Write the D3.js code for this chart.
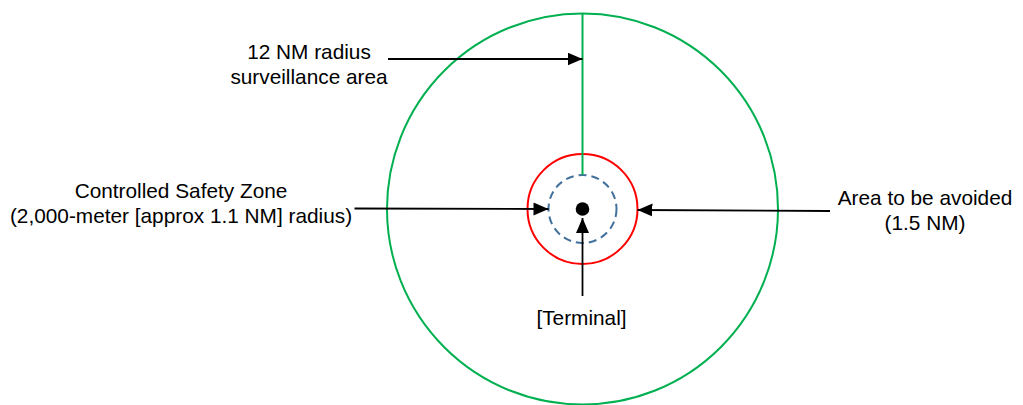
<!DOCTYPE html>
<html>
<head>
<meta charset="utf-8">
<script src="https://cdn.jsdelivr.net/npm/d3@7"></script>
<style>
  html, body { margin: 0; padding: 0; background: #fff; }
  text { font-family: "Liberation Sans", Arial, sans-serif; font-size: 20.8px; fill: #000; }
</style>
</head>
<body>
<div id="container"></div>
<script>
// rings around the terminal
const rings = ['Controlled Safety Zone', 'Area to be avoided', '12 NM radius'];
const ringRadiusNM = [1.1, 1.5, 12];
const ringColors = ['#41719c', '#ff0000', '#00b050'];
const ringDash = ['8,5', null, null];

// callout labels
const labelLines = [
    ['12 NM radius', 'surveillance area'],
    ['Controlled Safety Zone', '(2,000-meter [approx 1.1 NM] radius)'],
    ['Area to be avoided', '(1.5 NM)'],
    ['[Terminal]']
];

const width = 1023;
const height = 405;
const cx = 582.5;
const cy = 209;

// the drawing is not to scale, so map each ring to its drawn radius
const r = d3.scaleOrdinal().domain(ringRadiusNM).range([34, 55, 195.5]);

const svg = d3.select('#container').append('svg')
    .attr('width', width)
    .attr('height', height)
    .style('display', 'block');

svg.append('defs').append('marker')
    .attr('id', 'head')
    .attr('markerUnits', 'userSpaceOnUse')
    .attr('markerWidth', 16)
    .attr('markerHeight', 14)
    .attr('refX', 15)
    .attr('refY', 6.5)
    .attr('orient', 'auto')
    .append('path')
    .attr('d', 'M0,0 L15,6.5 L0,13 Z')
    .attr('fill', '#000');

const g = svg.append('g').attr('transform', `translate(${cx} ${cy})`);

g.selectAll('circle.ring')
    .data(rings)
    .join('circle')
    .attr('class', 'ring')
    .attr('r', (d, i) => r(ringRadiusNM[i]))
    .attr('fill', 'none')
    .attr('stroke', (d, i) => ringColors[i])
    .attr('stroke-width', 2)
    .attr('stroke-dasharray', (d, i) => ringDash[i]);

// radius line of the surveillance circle
g.append('line')
    .attr('x1', 0).attr('y1', -r(12))
    .attr('x2', 0).attr('y2', -r(1.1))
    .attr('stroke', ringColors[2])
    .attr('stroke-width', 2);

// terminal
g.append('circle').attr('r', 6.8).attr('fill', '#000');

// arrows: [x1, y1, x2, y2] relative to the centre
const arrows = [
    [-194.5, -150, 0, -150],
    [-228, -0.5, -r(1.1), 0],
    [247.5, 2, r(1.5), 1],
    [0, 87, 0, 9]
];

g.selectAll('line.arrow')
    .data(arrows)
    .join('line')
    .attr('class', 'arrow')
    .attr('x1', d => d[0]).attr('y1', d => d[1])
    .attr('x2', d => d[2]).attr('y2', d => d[3])
    .attr('stroke', '#000')
    .attr('stroke-width', 1.8)
    .attr('marker-end', 'url(#head)');

// label anchors (centre x, first baseline)
const labelPos = [[309, 59], [181, 198], [925, 205], [581.5, 325]];

svg.selectAll('text.label')
    .data(labelLines)
    .join('text')
    .attr('class', 'label')
    .attr('text-anchor', 'middle')
    .attr('transform', (d, i) => `translate(${labelPos[i][0]} ${labelPos[i][1]})`)
    .selectAll('tspan')
    .data(d => d)
    .join('tspan')
    .attr('x', 0)
    .attr('y', (d, i) => i * 24.5)
    .text(d => d);
</script>
</body>
</html>
